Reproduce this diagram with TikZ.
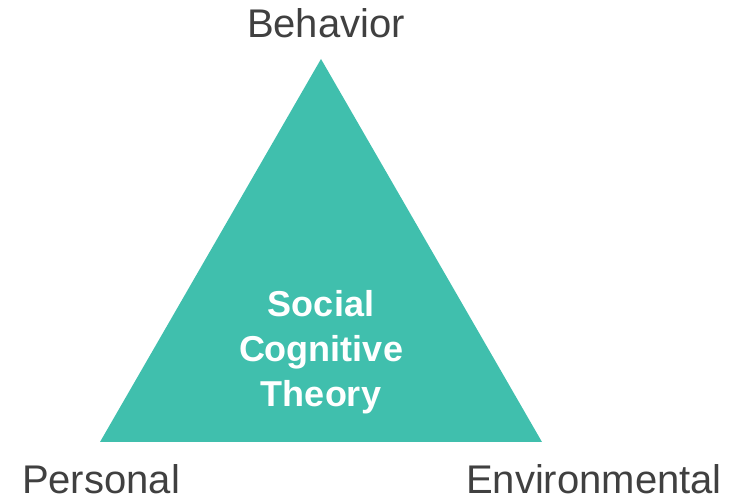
\documentclass[tikz,border=0pt]{standalone}
\usepackage{fontspec}
\setmainfont{Liberation Sans}
\definecolor{sctteal}{HTML}{40BFAD}
\definecolor{labelgray}{HTML}{404040}
\tikzset{
  corner/.style={anchor=base, text=labelgray, font=\fontsize{40}{48}\selectfont, inner sep=0pt},
  core/.style={align=center, text=white, font=\bfseries\fontsize{36}{45}\selectfont, inner sep=0pt}
}
\begin{document}
\begin{tikzpicture}[x=1pt,y=1pt]
  \useasboundingbox (0,0) rectangle (746,500);
  % triangle corners
  \coordinate (top) at (321,441);
  \coordinate (left) at (100,58);
  \coordinate (right) at (542,58);
  \fill[sctteal] (left) -- (top) -- (right) -- cycle;
  \node[core] (theory) at (321,148) {Social\\Cognitive\\Theory};
  % labels
  \node[corner] (behavior) at (326,462) {Behavior};
  \node[corner] (personal) at (101,6) {Personal};
  \node[corner] (environmental) at (594,6) {Environmental};
\end{tikzpicture}
\end{document}
